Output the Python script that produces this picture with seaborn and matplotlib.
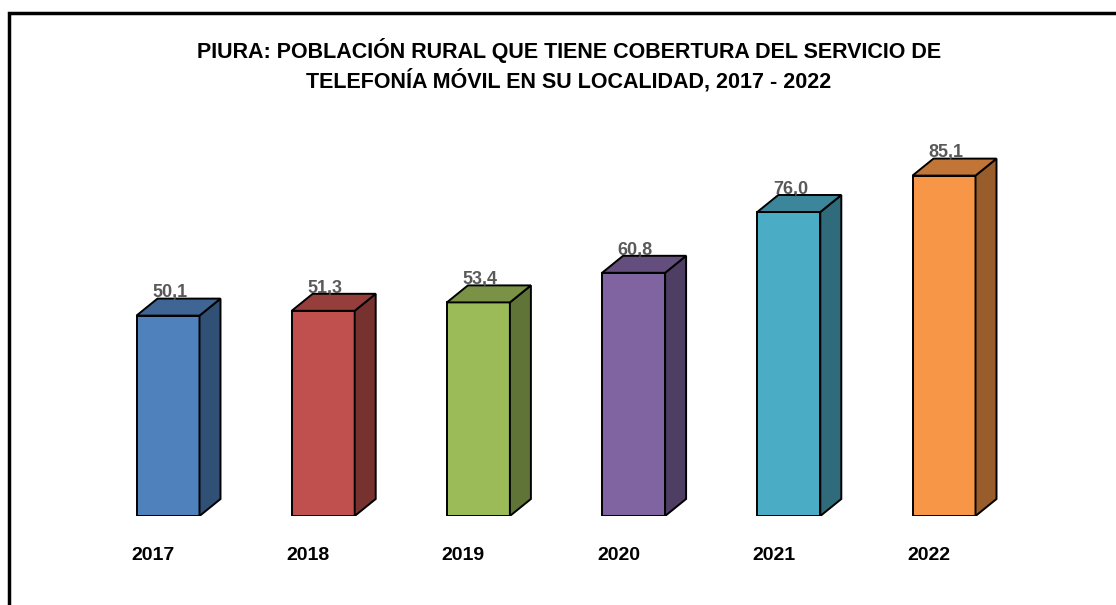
import matplotlib
matplotlib.use("Agg")
import matplotlib.pyplot as plt
import matplotlib.transforms as mtransforms
from matplotlib.patches import Polygon, Rectangle
import numpy as np
import pandas as pd
import seaborn as sns

years = ["2017", "2018", "2019", "2020", "2021", "2022"]
values = [50.1, 51.3, 53.4, 60.8, 76.0, 85.1]
colors = ["#4F81BD", "#C0504D", "#9BBB59", "#8064A2", "#4BACC6", "#F79646"]
title = ("PIURA: POBLACIÓN RURAL QUE TIENE COBERTURA DEL SERVICIO DE\n"
         "TELEFONÍA MÓVIL EN SU LOCALIDAD, 2017 - 2022")

sns.set_style("white")
plt.rcParams['font.family'] = ['Liberation Sans Narrow', 'Liberation Sans', 'DejaVu Sans']

df = pd.DataFrame({"year": years, "value": values})

W, H = 1116, 605
fig = plt.figure(figsize=(W / 100, H / 100), dpi=100)
# axes: bar centres 168..944 px, zero line at y=516 px, 4 px per unit
step = (944 - 168) / 5
left = 168 - 0.5 * step
ax = fig.add_axes([left / W, (H - 516) / H, 6 * step / W, 400 / H])

sns.barplot(data=df, x="year", y="value", hue="year", palette=colors,
            legend=False, width=63 / step, edgecolor="black", linewidth=1.4,
            saturation=1, ax=ax)
ax.set_xlim(-0.5, 5.5)
ax.set_ylim(0, 100)

# 3D depth offsets
dx = 21 / step
dy = 17 / 4.0

def shade(c, f):
    r, g, b = matplotlib.colors.to_rgb(c)
    return (r * f, g * f, b * f)

for p, c, v in zip(ax.patches, colors, values):
    x0, w, h = p.get_x(), p.get_width(), p.get_height()
    top = Polygon([(x0, h), (x0 + dx, h + dy), (x0 + w + dx, h + dy), (x0 + w, h)],
                  closed=True, facecolor=shade(c, 0.78), edgecolor="black",
                  linewidth=1.4, joinstyle="miter")
    side = Polygon([(x0 + w, 0), (x0 + w + dx, dy), (x0 + w + dx, h + dy), (x0 + w, h)],
                   closed=True, facecolor=shade(c, 0.62), edgecolor="black",
                   linewidth=1.4, joinstyle="miter")
    ax.add_patch(side)
    ax.add_patch(top)
    ax.text(x0 + w / 2 + 0.01, h + dy + 0.3, f"{v:.1f}".replace(".", ","),
            ha="center", va="baseline", fontsize=13, fontweight="bold",
            color="#595959")

for s in ax.spines.values():
    s.set_visible(False)
ax.set_yticks([])
ax.set_xlabel("")
ax.set_ylabel("")
ax.tick_params(axis="x", length=0, pad=22)
shift = mtransforms.ScaledTranslation(-15 / 100, 0, fig.dpi_scale_trans)
for lab in ax.get_xticklabels():
    lab.set_fontsize(14)
    lab.set_fontweight("bold")
    lab.set_color("black")
    lab.set_transform(lab.get_transform() + shift)

fig.text(569 / W, 1 - 65 / H, title, ha="center", va="center", fontsize=15.5,
         fontweight="bold", linespacing=1.3, color="black")

fig.add_artist(Rectangle((9 / W, -0.1), 1.2, (H - 13) / H + 0.1,
                         transform=fig.transFigure, fill=False,
                         edgecolor="black", linewidth=2.5, clip_on=False))

fig.savefig("out.png", dpi=100)
